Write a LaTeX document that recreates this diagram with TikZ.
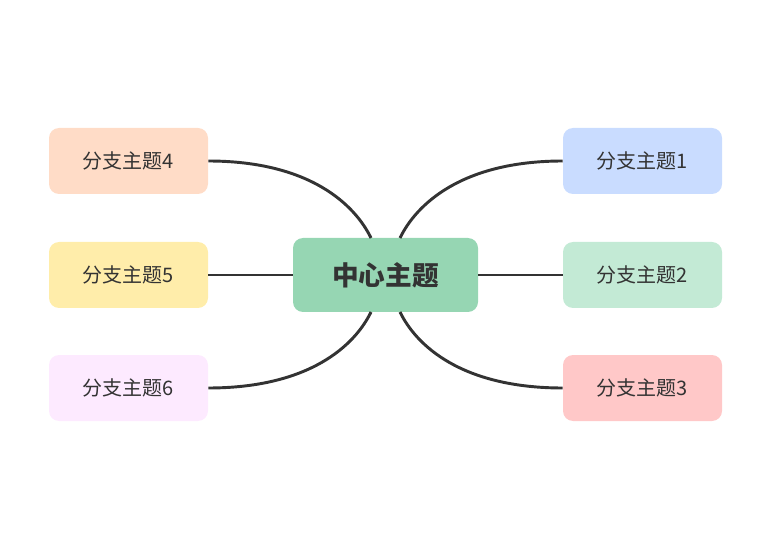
\documentclass[tikz,border=0pt]{standalone}
\usepackage{fontspec}
\setmainfont{Noto Sans CJK SC}
\definecolor{c0}{HTML}{96D6B3}
\definecolor{c1}{HTML}{C9DCFF}
\definecolor{c2}{HTML}{C3EAD5}
\definecolor{c3}{HTML}{FFC8C8}
\definecolor{c4}{HTML}{FFDCC7}
\definecolor{c5}{HTML}{FFEDAA}
\definecolor{c6}{HTML}{FDEAFF}
\definecolor{ln}{HTML}{333333}
\begin{document}
\begin{tikzpicture}[x=0.75pt,y=-0.75pt,
  br/.style={rounded corners=7.5pt,minimum width=119.25pt,minimum height=49.5pt,inner sep=0pt,font=\fontsize{15}{18}\selectfont,text=ln},
  conn/.style={draw=ln,line width=2.2pt}]
\useasboundingbox (0,0) rectangle (771,552);
\node[br,fill=c0,minimum width=138.75pt,minimum height=55.5pt,font=\fontsize{20}{24}\selectfont\bfseries] (c) at (385.5,275) {中心主题};
\node[br,fill=c1] (b1) at (642.5,161) {分支主题1};
\node[br,fill=c2] (b2) at (642.5,275) {分支主题2};
\node[br,fill=c3] (b3) at (642.5,388) {分支主题3};
\node[br,fill=c4] (b4) at (128.5,161) {分支主题4};
\node[br,fill=c5] (b5) at (128.5,275) {分支主题5};
\node[br,fill=c6] (b6) at (128.5,388) {分支主题6};
\coordinate (tl) at (371,238); \coordinate (tr) at (400,238);
\coordinate (bl) at (371,312); \coordinate (brr) at (400,312);
\draw[conn] (b4.east) .. controls (310,161) and (355,205) .. (tl);
\draw[conn] (b1.west) .. controls (461,161) and (416,205) .. (tr);
\draw[conn] (b6.east) .. controls (310,388) and (355,345) .. (bl);
\draw[conn] (b3.west) .. controls (461,388) and (416,345) .. (brr);
\draw[conn] (b5.east) -- (c.west);
\draw[conn] (c.east) -- (b2.west);
\end{tikzpicture}
\end{document}
